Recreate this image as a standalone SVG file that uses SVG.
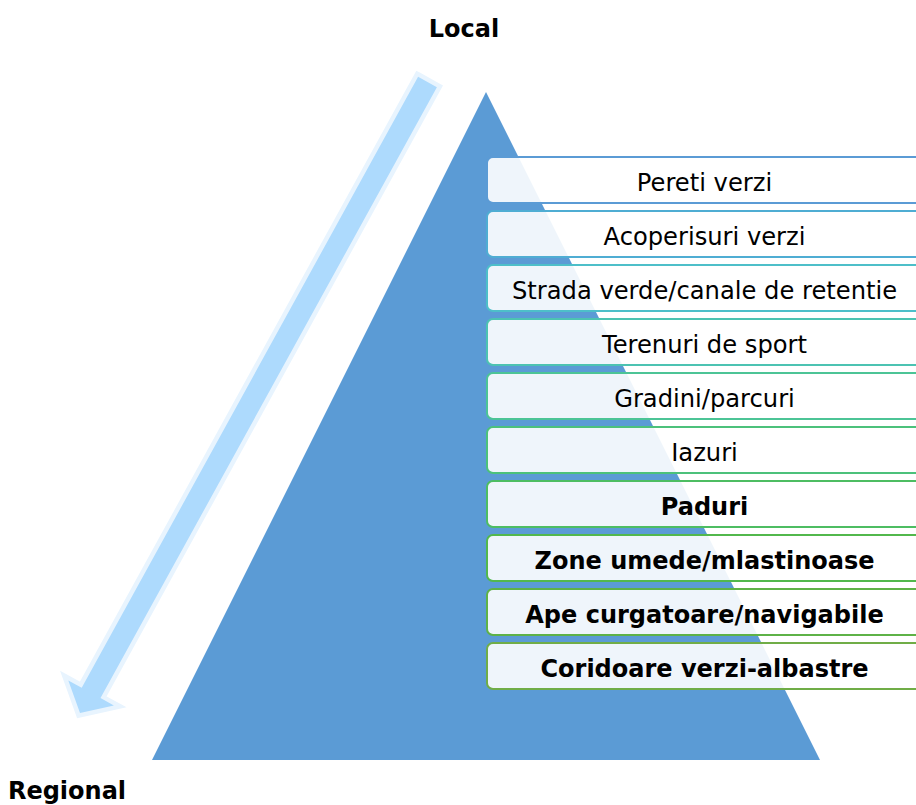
<svg xmlns="http://www.w3.org/2000/svg" width="916" height="805" viewBox="0 0 916 805">
  <style>
    .lbl { font-family: "DejaVu Sans", Verdana, sans-serif; font-size: 24.2px; fill: #000; text-anchor: middle; }
    .b { font-weight: bold; font-size: 24px; }
    .box { fill: #ffffff; fill-opacity: 0.9; stroke-width: 2; }
  </style>
  <defs>
    <polygon id="arrowShape" points="418.1,76.8 436.9,87.2 100.5,698.1 113.9,705.4 80,713 68.3,680.4 81.7,687.7"/>
  </defs>
  <rect width="916" height="805" fill="#ffffff"/>
  <g id="pyramid">
    <polygon points="486,92 152,760 820,760" fill="#5B9BD5"/>
  </g>
  <g id="connectors">
    <use href="#arrowShape" fill="#E8F4FE" stroke="#E8F4FE" stroke-width="9" stroke-linejoin="miter"/>
    <use href="#arrowShape" fill="#ADDAFD"/>
  </g>
  <g id="title-local"><text class="lbl b" x="464" y="36.5">Local</text></g>
  <g id="title-regional"><text class="lbl b" x="67" y="798.5">Regional</text></g>
  <g id="n1"><rect class="box" x="487" y="157" width="435" height="46" rx="6" stroke="#5B9BD5"/><text class="lbl" x="704.5" y="190.5">Pereti verzi</text></g>
  <g id="n2"><rect class="box" x="487" y="211" width="435" height="46" rx="6" stroke="#4FADD3"/><text class="lbl" x="704.5" y="244.5">Acoperisuri verzi</text></g>
  <g id="n3"><rect class="box" x="487" y="265" width="435" height="46" rx="6" stroke="#4DBFC9"/><text class="lbl" x="704.5" y="298.5">Strada verde/canale de retentie</text></g>
  <g id="n4"><rect class="box" x="487" y="319" width="435" height="46" rx="6" stroke="#4CC3B2"/><text class="lbl" x="704.5" y="352.5">Terenuri de sport</text></g>
  <g id="n5"><rect class="box" x="487" y="373" width="435" height="46" rx="6" stroke="#4CC496"/><text class="lbl" x="704.5" y="406.5">Gradini/parcuri</text></g>
  <g id="n6"><rect class="box" x="487" y="427" width="435" height="46" rx="6" stroke="#4CC17B"/><text class="lbl" x="704.5" y="460.5">Iazuri</text></g>
  <g id="n7"><rect class="box" x="487" y="481" width="435" height="46" rx="6" stroke="#4DBD62"/><text class="lbl b" x="704.5" y="514.5">Paduri</text></g>
  <g id="n8"><rect class="box" x="487" y="535" width="435" height="46" rx="6" stroke="#52B84C"/><text class="lbl b" x="704.5" y="568.5">Zone umede/mlastinoase</text></g>
  <g id="n9"><rect class="box" x="487" y="589" width="435" height="46" rx="6" stroke="#5EB247"/><text class="lbl b" x="704.5" y="622.5">Ape curgatoare/navigabile</text></g>
  <g id="n10"><rect class="box" x="487" y="643" width="435" height="46" rx="6" stroke="#70AD47"/><text class="lbl b" x="704.5" y="676.5">Coridoare verzi-albastre</text></g>
</svg>
